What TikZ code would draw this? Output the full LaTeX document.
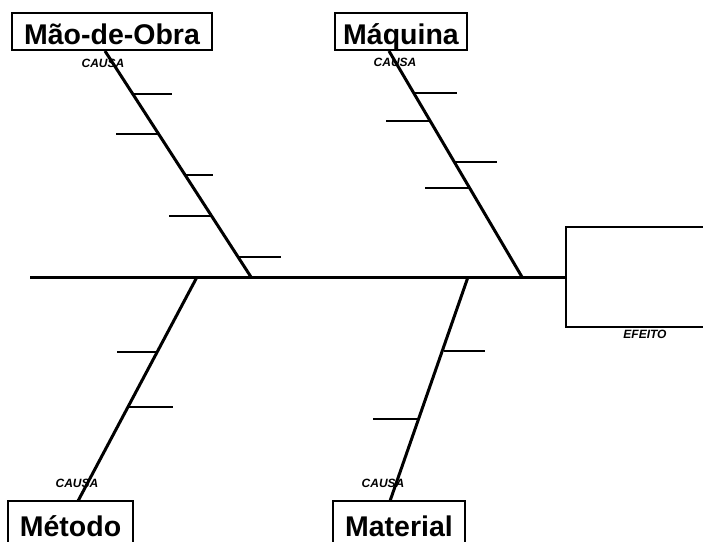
\documentclass[tikz,border=0pt]{standalone}
\usepackage{fontspec}
\setmainfont{Liberation Sans}
\begin{document}
\begin{tikzpicture}[x=1pt,y=-1pt,
  catbox/.style={draw=black, line width=2pt, inner sep=0pt, font=\bfseries\fontsize{28.5}{30}\selectfont},
  cause/.style={font=\bfseries\itshape\fontsize{12}{13}\selectfont, inner sep=0pt},
  bone/.style={line width=3pt},
  rib/.style={line width=2pt},
  spine/.style={line width=3pt}]
\clip (0,0) rectangle (703,541);
% category boxes
\node[catbox, minimum width=200pt, minimum height=37pt, text height=26.4pt, text depth=0pt] (mao) at (112,31.5) {Mão-de-Obra};
\node[catbox, minimum width=132pt, minimum height=37pt, text height=26.4pt, text depth=0pt] (maq) at (401,31.5) {Máquina};
\node[catbox, minimum width=125pt, minimum height=56pt, text height=14pt, text depth=0pt] (met) at (70.5,529) {Método};
\node[catbox, minimum width=132pt, minimum height=56pt, text height=14pt, text depth=0pt] (mat) at (399,529) {Material};
% effect box
\node[draw=black, line width=2.5pt, minimum width=160pt, minimum height=100pt, inner sep=0pt] (efe) at (646,277) {};
% labels
\node[cause] (c1) at (103,63) {CAUSA};
\node[cause] (c2) at (395,62) {CAUSA};
\node[cause] (c3) at (77,483) {CAUSA};
\node[cause] (c4) at (383,483) {CAUSA};
\node[cause] (ef) at (645,334) {EFEITO};
% spine
\coordinate (tail) at (30,277);
\draw[spine] (tail) -- (efe.west);
% bone end points
\coordinate (b1s) at (105,51);  \coordinate (b1e) at (251,277);
\coordinate (b2s) at (389,51);  \coordinate (b2e) at (522,277);
\coordinate (b3s) at (78,501);  \coordinate (b3e) at (197,277);
\coordinate (b4s) at (390,501); \coordinate (b4e) at (468,277);
\draw[bone] (b1s) -- (b1e);
\draw[bone] (b2s) -- (b2e);
\draw[bone] (b3s) -- (b3e);
\draw[bone] (b4s) -- (b4e);
% ribs: Mao-de-Obra
\coordinate (r1a) at (133,94);  \coordinate (r1b) at (172,94);
\coordinate (r2a) at (116,134); \coordinate (r2b) at (159,134);
\coordinate (r3a) at (185,175); \coordinate (r3b) at (213,175);
\coordinate (r4a) at (169,216); \coordinate (r4b) at (212,216);
\coordinate (r5a) at (238,257); \coordinate (r5b) at (281,257);
\draw[rib] (r1a) -- (r1b);
\draw[rib] (r2a) -- (r2b);
\draw[rib] (r3a) -- (r3b);
\draw[rib] (r4a) -- (r4b);
\draw[rib] (r5a) -- (r5b);
% ribs: Maquina
\coordinate (q1a) at (414,93);  \coordinate (q1b) at (457,93);
\coordinate (q2a) at (386,121); \coordinate (q2b) at (430,121);
\coordinate (q3a) at (454,162); \coordinate (q3b) at (497,162);
\coordinate (q4a) at (425,188); \coordinate (q4b) at (470,188);
\draw[rib] (q1a) -- (q1b);
\draw[rib] (q2a) -- (q2b);
\draw[rib] (q3a) -- (q3b);
\draw[rib] (q4a) -- (q4b);
% ribs: Metodo
\coordinate (m1a) at (117,352); \coordinate (m1b) at (157,352);
\coordinate (m2a) at (128,407); \coordinate (m2b) at (173,407);
\draw[rib] (m1a) -- (m1b);
\draw[rib] (m2a) -- (m2b);
% ribs: Material
\coordinate (t1a) at (444,351); \coordinate (t1b) at (485,351);
\coordinate (t2a) at (373,419); \coordinate (t2b) at (419,419);
\draw[rib] (t1a) -- (t1b);
\draw[rib] (t2a) -- (t2b);
\end{tikzpicture}
\end{document}
